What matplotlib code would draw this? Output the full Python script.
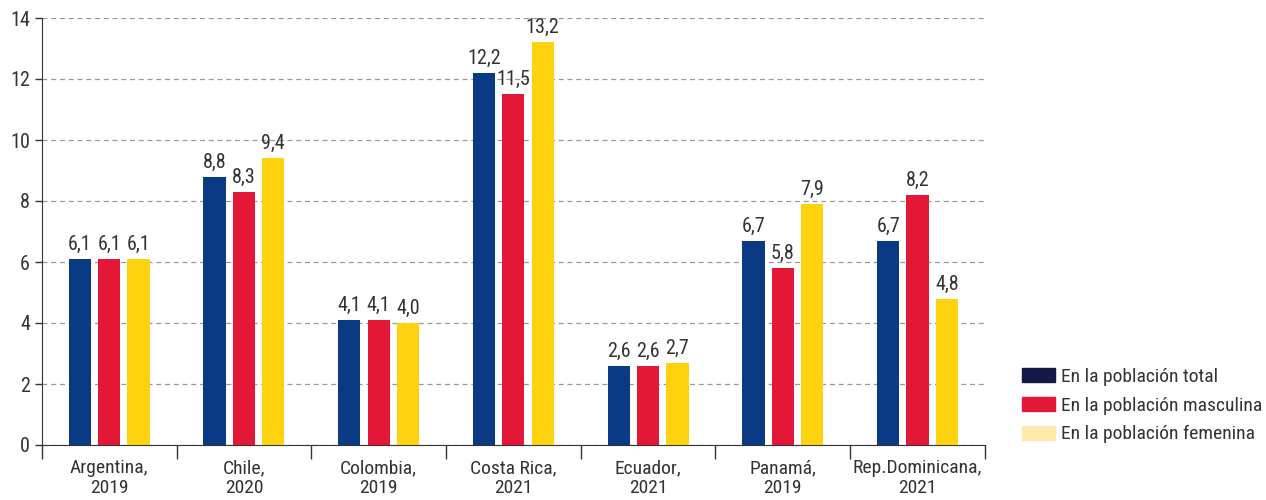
import matplotlib
matplotlib.use("Agg")
import matplotlib.pyplot as plt
import matplotlib.patches as mpatches
import numpy as np

plt.rcParams['font.family'] = ['Liberation Sans Narrow', 'Roboto Condensed', 'Liberation Sans', 'DejaVu Sans']

categories = ["Argentina,\n2019", "Chile,\n2020", "Colombia,\n2019", "Costa Rica,\n2021",
              "Ecuador,\n2021", "Panamá,\n2019", "Rep.Dominicana,\n2021"]
total = [6.1, 8.8, 4.1, 12.2, 2.6, 6.7, 6.7]
masculina = [6.1, 8.3, 4.1, 11.5, 2.6, 5.8, 8.2]
femenina = [6.1, 9.4, 4.0, 13.2, 2.7, 7.9, 4.8]
series_names = ["En la población total", "En la población masculina", "En la población femenina"]

bar_colors = ["#0a3a84", "#e31837", "#ffd20f"]
legend_colors = ["#141a45", "#e31837", "#fde9a9"]
txt = "#333333"
fs = 14.5

fig = plt.figure(figsize=(12.66, 5), dpi=100)
ax = fig.add_axes([0.033, 0.11, 0.745, 0.854])

x = np.arange(len(categories))
w = 0.165
step = 0.218
for i, (vals, col) in enumerate(zip([total, masculina, femenina], bar_colors)):
    pos = x + (i - 1) * step
    ax.bar(pos, vals, width=w, color=col, zorder=3)
    for px, v in zip(pos, vals):
        ax.text(px, v + 0.17, f"{v:.1f}".replace(".", ","), ha="center", va="bottom",
                fontsize=fs, color=txt)

ax.set_xlim(-0.5, len(categories) - 0.5)
ax.set_ylim(0, 14)
ax.set_yticks(range(0, 15, 2))
ax.yaxis.grid(True, linestyle=(0, (4, 3)), color="#999999", linewidth=0.9, zorder=0)
ax.tick_params(axis="y", labelsize=fs, colors=txt, length=5, width=1)
ax.set_xticks(x)
ax.set_xticklabels(categories, fontsize=14, color=txt, linespacing=1.15)
ax.tick_params(axis="x", length=0, pad=10)
ax.set_xticks(np.arange(-0.5, len(categories), 1), minor=True)
ax.tick_params(axis="x", which="minor", length=10, width=1, color=txt)

for s in ["top", "right"]:
    ax.spines[s].set_visible(False)
ax.spines["left"].set_color(txt)
ax.spines["bottom"].set_color(txt)

handles = [mpatches.Patch(color=c, label=n) for c, n in zip(legend_colors, series_names)]
fig.legend(handles=handles, loc="upper left", bbox_to_anchor=(0.807, 0.264), frameon=False,
           fontsize=14, handlelength=1.7, handleheight=0.75, handletextpad=0.3,
           labelspacing=0.55, labelcolor=txt, borderpad=0, borderaxespad=0)

fig.savefig("out.png", dpi=100)
